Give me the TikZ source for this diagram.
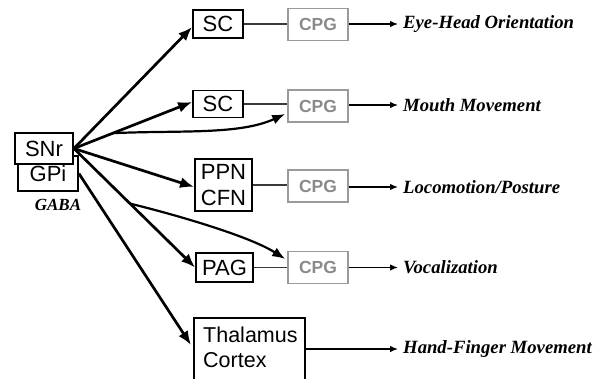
\documentclass[tikz,border=0pt]{standalone}
\usepackage{fontspec}
\setmainfont{Liberation Serif}
\newfontfamily\hsans{Liberation Sans}
\usetikzlibrary{arrows.meta,calc}
\definecolor{cpggray}{HTML}{9A9A9A}
\definecolor{cpgtext}{HTML}{8A8A8A}
\definecolor{linegray}{HTML}{3A3A3A}
\begin{document}
\begin{tikzpicture}[x=1pt,y=-1pt,
  blk/.style={draw=black, line width=1.8pt, fill=white, inner sep=0pt, font=\hsans\fontsize{22}{26}\selectfont},
  cpgbox/.style={draw=cpggray, line width=1.6pt, fill=white, minimum width=60pt, minimum height=32pt, inner sep=0pt, text=cpgtext, font=\hsans\bfseries\fontsize{17.5}{20}\selectfont},
  lab/.style={anchor=west, inner xsep=5pt, inner ysep=0pt, font=\bfseries\itshape\fontsize{18.7}{22}\selectfont},
  bigarrow/.style={line width=2.7pt, -{Latex[length=14pt,width=11pt]}},
  crvarrow/.style={line width=2.2pt, -{Latex[length=13pt,width=10pt]}},
  conn/.style={line width=1.3pt, draw=linegray},
  outarrow/.style={line width=1.3pt, draw=black, -{Latex[length=8pt,width=6.5pt]}}
]
\useasboundingbox (0,0) rectangle (600,378);
\clip (0,0) rectangle (600,378);

% left source boxes
\node[blk, minimum width=60pt, minimum height=35pt] (gpi) at (48,173.5) {\raisebox{-2.5pt}{GPi}};
\node[blk, minimum width=58pt, minimum height=31pt] (snr) at (44,148.5) {SNr};
\node[font=\bfseries\itshape\fontsize{17}{20}\selectfont, inner sep=0pt] (gaba) at (58,205) {GABA};

% target boxes
\node[blk, minimum width=50pt, minimum height=28pt] (sc1) at (218,24) {SC};
\node[blk, minimum width=50pt, minimum height=27pt] (sc2) at (218,104) {SC};
\node[blk, minimum width=57pt, minimum height=52pt, align=center] (ppn) at (223.5,185) {PPN\\CFN};
\node[blk, minimum width=57pt, minimum height=29pt] (pag) at (224.5,267.5) {PAG};
\node[blk, anchor=north west, minimum width=111pt, minimum height=80pt] (thal) at (193,317) {};
\node[anchor=north west, align=left, inner sep=0pt, font=\hsans\fontsize{21.5}{25}\selectfont] (thaltxt) at ([shift={(10pt,-10pt)}]thal.north west) {Thalamus\\Cortex};

% CPG boxes
\node[cpgbox] (cpg1) at (318,24.5) {CPG};
\node[cpgbox] (cpg2) at (318,106) {CPG};
\node[cpgbox] (cpg3) at (318,186) {CPG};
\node[cpgbox] (cpg4) at (318,267.5) {CPG};

% output labels
\node[lab] (lab1) at (398,24) {Eye-Head Orientation};
\node[lab] (lab2) at (398,105) {Mouth Movement};
\node[lab] (lab3) at (398,187) {Locomotion/Posture};
\node[lab] (lab4) at (398,267.5) {Vocalization};
\node[lab] (lab5) at (398,349) {Hand-Finger Movement};

% box to CPG connectors
\draw[conn] (sc1.east) -- (sc1.east -| cpg1.west);
\draw[conn] (sc2.east) -- (sc2.east -| cpg2.west);
\draw[conn] (ppn.east) -- (ppn.east -| cpg3.west);
\draw[conn] (pag.east) -- (pag.east -| cpg4.west);

% CPG to label arrows
\draw[outarrow] (cpg1.east |- lab1.west) -- (lab1.west);
\draw[outarrow] (cpg2.east |- lab2.west) -- (lab2.west);
\draw[outarrow] (cpg3.east |- lab3.west) -- (lab3.west);
\draw[outarrow] (cpg4.east |- lab4.west) -- (lab4.west);
\draw[outarrow] (thal.east |- lab5.west) -- (lab5.west);

% fan of arrows
\draw[bigarrow] (snr.east) -- ([yshift=-3pt]sc1.west);
\draw[bigarrow] (snr.east) -- ([yshift=2pt]sc2.west);
\draw[bigarrow] (snr.east) -- ([yshift=-2pt]ppn.west);
\draw[bigarrow] (snr.east) -- (pag.west);
\draw[bigarrow] (gpi.east) -- ([shift={(-2pt,-28pt)}]thal.north west);

% curved branches
\coordinate (br1) at ($(snr.east)!0.33!([yshift=2pt]sc2.west)$);
\coordinate (br2) at ($(snr.east)!0.463!(pag.west)$);
\draw[crvarrow] (br1) .. controls +(68,-3) and +(-46,21) .. ([shift={(-2pt,-8pt)}]cpg2.west);
\draw[crvarrow] (br2) .. controls +(45,11) and +(-36,-23) .. ([shift={(-2pt,8.5pt)}]cpg4.west);
\end{tikzpicture}
\end{document}
